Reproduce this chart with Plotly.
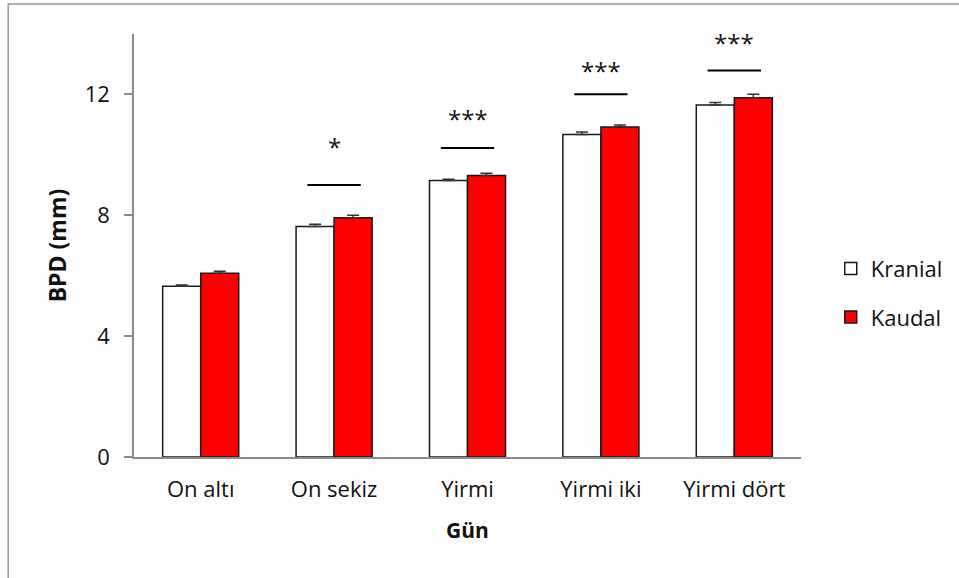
import plotly.graph_objects as go

categories = ["On altı", "On sekiz", "Yirmi", "Yirmi iki", "Yirmi dört"]
kranial = [5.65, 7.63, 9.15, 10.67, 11.65]
kranial_err = [0.04, 0.07, 0.04, 0.09, 0.08]
kaudal = [6.08, 7.92, 9.32, 10.92, 11.89]
kaudal_err = [0.07, 0.08, 0.07, 0.07, 0.12]
sig_line_y = [None, 9.0, 10.23, 12.01, 12.79]
sig_star_y = [None, 10.27, 11.21, 12.8, 13.73]
sig_label = ["", "*", "***", "***", "***"]
y_ticks = [0, 4, 8, 12]

FONT = "Open Sans"
AX = "#8c8c8c"

fig = go.Figure()
fig.add_trace(go.Bar(
    name="Kranial", x=categories, y=kranial,
    marker=dict(color="white", line=dict(color="#1a1a1a", width=1.5)),
    error_y=dict(type="data", array=kranial_err, arrayminus=[0]*5, symmetric=False,
                 color="#333333", thickness=1.5, width=6),
    legendgroup="a",
))
fig.add_trace(go.Bar(
    name="Kaudal", x=categories, y=kaudal,
    marker=dict(color="#ff0000", line=dict(color="#1a1a1a", width=1.5)),
    error_y=dict(type="data", array=kaudal_err, arrayminus=[0]*5, symmetric=False,
                 color="#333333", thickness=1.5, width=6),
    legendgroup="b",
))

shapes = []
annotations = []
for i, (ly, sy, lab) in enumerate(zip(sig_line_y, sig_star_y, sig_label)):
    if ly is None:
        continue
    shapes.append(dict(type="line", xref="x", yref="y", x0=i - 0.2, x1=i + 0.2,
                       y0=ly, y1=ly, line=dict(color="black", width=2)))
    annotations.append(dict(x=i, y=sy, xref="x", yref="y", text=lab,
                            showarrow=False, yanchor="middle",
                            font=dict(family=FONT, size=24, color="#111")))

# outer frame
shapes.append(dict(type="rect", xref="paper", yref="paper",
                   x0=-0.1886, x1=1.25, y0=-0.4, y1=1.0709,
                   line=dict(color="#999999", width=1.5), fillcolor="rgba(0,0,0,0)", layer="below"))

fig.update_layout(
    width=959, height=578,
    margin=dict(l=134, r=157, t=34, b=121),
    paper_bgcolor="white", plot_bgcolor="white",
    barmode="group", bargap=0.43, bargroupgap=0,
    font=dict(family=FONT, size=22, color="#111"),
    shapes=shapes, annotations=annotations,
    legend=dict(x=1.043, y=0.495, xanchor="left", yanchor="top",
                traceorder="grouped", tracegroupgap=17,
                font=dict(family=FONT, size=22, color="#111")),
    xaxis=dict(showline=True, linecolor=AX, linewidth=1.5, ticks="",
               ticklabelstandoff=12,
               title=dict(text="<b>Gün</b>", standoff=21,
                          font=dict(family=FONT, size=21, color="#111")),
               showgrid=False, zeroline=False),
    yaxis=dict(range=[0, 14], tickvals=y_ticks, showline=True, linecolor=AX, linewidth=1.5,
               ticks="outside", ticklen=8, tickcolor=AX, tickwidth=1.5,
               ticklabelstandoff=10,
               title=dict(text="<b>BPD (mm)</b>", standoff=12,
                          font=dict(family=FONT, size=23, color="#111")),
               showgrid=False, zeroline=False),
)

fig.write_html("out.html")
